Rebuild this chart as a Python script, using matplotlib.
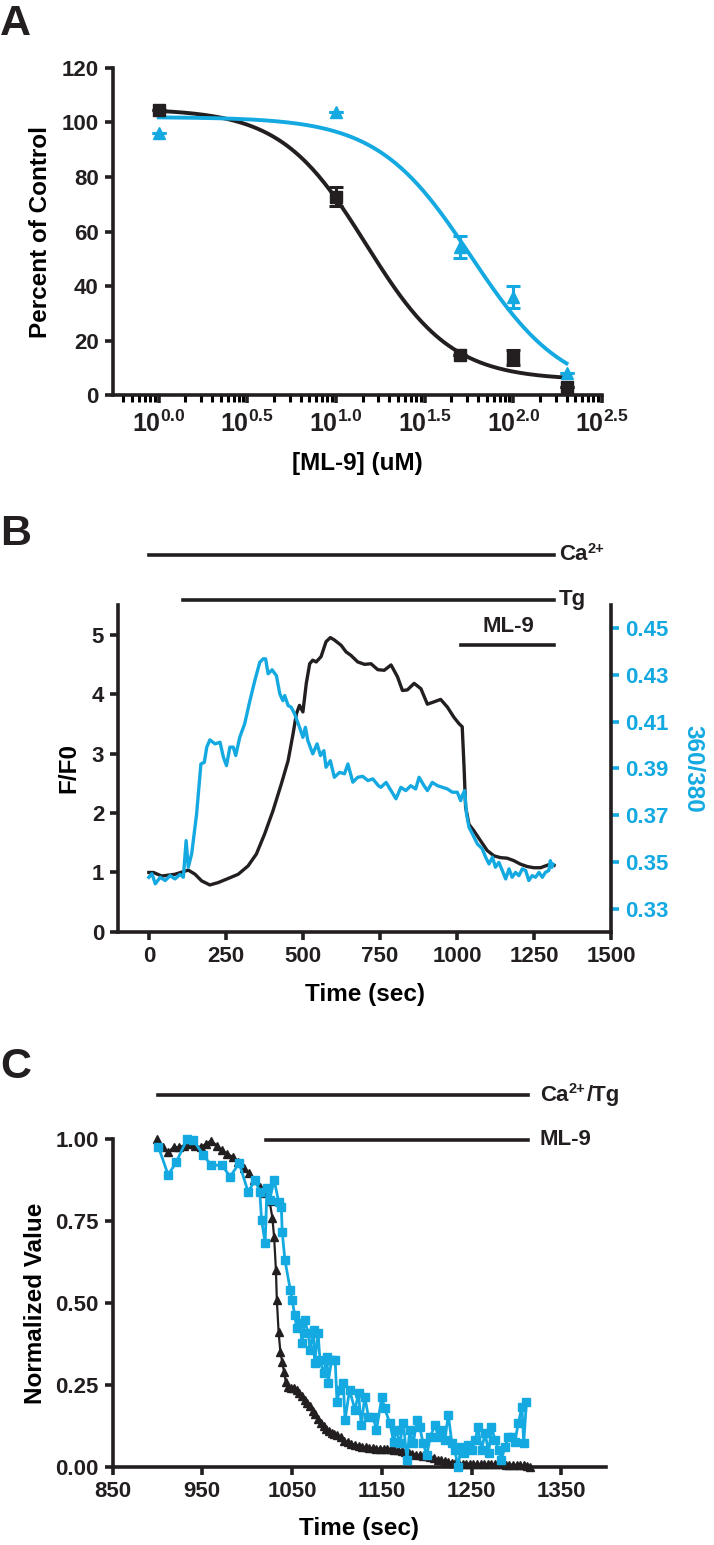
import numpy as np
import matplotlib
matplotlib.use("Agg")
import matplotlib.pyplot as plt
from matplotlib.ticker import FixedLocator, NullFormatter

# ---------------- data ----------------
# Panel A: dose response (ML-9 concentration in uM)
dose = [1, 10, 50, 100, 200]
pct_black = [104.6, 72.8, 14.7, 13.7, 3.0]
err_black = [0, 3.5, 0, 2.8, 0]
pct_blue = [96.0, 104.0, 54.4, 36.1, 8.0]
err_blue = [0, 0, 4.0, 4.0, 0]
# fitted sigmoid parameters: top, bottom, logIC50, hill slope
fit_black = [105.0, 5.5, 1.17, 1.8]
fit_blue = [102.0, 0.0, 1.76, 1.65]
a_xticks = [0.0, 0.5, 1.0, 1.5, 2.0, 2.5]

# Panel B: F/F0 trace (black) and 360/380 ratio (blue)
b_t_black = [0, 15, 42, 85, 128, 150, 171, 198, 225, 258, 290, 322, 349, 376, 403,
             430, 452, 468, 479, 489, 500, 511, 522, 532, 543, 559, 575, 589, 602,
             624, 640, 656, 678, 700, 721, 743, 764, 786, 807, 823, 839, 861, 883,
             904, 926, 947, 969, 990, 1007, 1017, 1023, 1028, 1039, 1055, 1077, 1098,
             1120, 1141, 1163, 1184, 1206, 1228, 1249, 1271, 1287, 1303, 1315]
b_f_black = [1.00, 1.00, 0.94, 0.97, 1.04, 0.97, 0.86, 0.79, 0.83, 0.90, 0.97, 1.11,
             1.31, 1.65, 2.04, 2.49, 2.88, 3.33, 3.67, 3.81, 3.70, 4.18, 4.51, 4.57,
             4.54, 4.63, 4.88, 4.95, 4.91, 4.82, 4.71, 4.65, 4.54, 4.50, 4.51, 4.41,
             4.40, 4.49, 4.29, 4.06, 4.07, 4.18, 4.09, 3.83, 3.87, 3.91, 3.78, 3.61,
             3.50, 3.45, 2.77, 2.10, 1.81, 1.70, 1.53, 1.37, 1.28, 1.25, 1.24, 1.20,
             1.14, 1.10, 1.08, 1.08, 1.11, 1.14, 1.12]
b_t_blue = [0, 10, 21, 37, 53, 69, 85, 101, 112, 121, 128, 139, 155, 169, 180, 188,
            198, 215, 231, 242, 252, 263, 274, 282, 295, 311, 328, 344, 360, 371, 379,
            387, 400, 414, 425, 435, 441, 452, 462, 473, 489, 500, 508, 516, 532, 546,
            557, 568, 575, 589, 602, 619, 635, 646, 662, 678, 694, 711, 727, 745, 753,
            770, 786, 802, 818, 834, 850, 866, 877, 893, 904, 920, 937, 953, 969, 985,
            1001, 1012, 1017, 1025, 1031, 1039, 1050, 1066, 1082, 1093, 1104, 1115,
            1125, 1136, 1147, 1158, 1169, 1179, 1190, 1201, 1212, 1223, 1233, 1244,
            1255, 1266, 1277, 1287, 1298, 1303, 1308, 1312]
b_r_blue = [0.3434, 0.3449, 0.3406, 0.3434, 0.3420, 0.3441, 0.3427, 0.3446, 0.3434,
            0.3591, 0.3477, 0.3534, 0.3705, 0.3919, 0.3926, 0.3991, 0.4022, 0.4005,
            0.4012, 0.3948, 0.3912, 0.3991, 0.3991, 0.3955, 0.4033, 0.4091, 0.4190,
            0.4276, 0.4354, 0.4369, 0.4369, 0.4305, 0.4322, 0.4297, 0.4219, 0.4190,
            0.4212, 0.4169, 0.4162, 0.4133, 0.4076, 0.4033, 0.4076, 0.4019, 0.3962,
            0.4005, 0.3955, 0.3976, 0.3905, 0.3933, 0.3862, 0.3883, 0.3877, 0.3919,
            0.3841, 0.3862, 0.3866, 0.3848, 0.3855, 0.3826, 0.3819, 0.3840, 0.3805,
            0.3770, 0.3819, 0.3805, 0.3826, 0.3812, 0.3862, 0.3826, 0.3805, 0.3840,
            0.3826, 0.3819, 0.3812, 0.3798, 0.3798, 0.3762, 0.3784, 0.3805, 0.3705,
            0.3648, 0.3620, 0.3577, 0.3556, 0.3520, 0.3491, 0.3520, 0.3477, 0.3498,
            0.3463, 0.3427, 0.3470, 0.3434, 0.3455, 0.3441, 0.3470, 0.3463, 0.3420,
            0.3441, 0.3434, 0.3455, 0.3434, 0.3455, 0.3463, 0.3505, 0.3477, 0.3490]

# Panel C: normalized traces after ML-9
c_t_black = [900, 906, 912, 918, 924, 930, 936, 942, 948, 954, 960, 966, 972, 978,
             984, 990, 996, 1002, 1008, 1014, 1020, 1025, 1028, 1030, 1032, 1033, 1035,
             1037, 1039, 1041, 1043, 1046, 1049, 1052, 1055, 1058, 1061, 1064, 1067,
             1070, 1073, 1076, 1079, 1082, 1085, 1088, 1091, 1094, 1097, 1100, 1104,
             1108, 1112, 1116, 1120, 1124, 1128, 1132, 1136, 1140, 1144, 1148, 1152,
             1156, 1160, 1164, 1168, 1172, 1176, 1180, 1184, 1188, 1192, 1196, 1200,
             1204, 1208, 1212, 1216, 1220, 1224, 1228, 1232, 1236, 1240, 1244, 1248,
             1252, 1256, 1260, 1264, 1268, 1272, 1276, 1280, 1284, 1288, 1292, 1296,
             1300, 1304, 1308, 1312, 1315]
c_v_black = [1.00, 0.975, 0.96, 0.975, 0.975, 0.98, 0.985, 0.98, 0.975, 0.985, 0.995,
             0.98, 0.965, 0.955, 0.945, 0.93, 0.91, 0.895, 0.875, 0.855, 0.835, 0.81,
             0.76, 0.70, 0.60, 0.51, 0.41, 0.35, 0.32, 0.29, 0.26, 0.245, 0.24, 0.24,
             0.235, 0.225, 0.215, 0.205, 0.195, 0.185, 0.17, 0.16, 0.145, 0.135, 0.125,
             0.115, 0.11, 0.105, 0.10, 0.097, 0.09, 0.08, 0.075, 0.07, 0.068, 0.065,
             0.062, 0.06, 0.058, 0.057, 0.056, 0.056, 0.056, 0.056, 0.055, 0.053, 0.052,
             0.05, 0.047, 0.043, 0.041, 0.038, 0.036, 0.034, 0.032, 0.03, 0.026, 0.022,
             0.02, 0.017, 0.015, 0.013, 0.011, 0.01, 0.01, 0.01, 0.01, 0.01, 0.009,
             0.009, 0.009, 0.008, 0.008, 0.008, 0.008, 0.008, 0.007, 0.007, 0.007,
             0.006, 0.006, 0.005, 0.003, 0.0]
c_t_blue = [901, 912, 921, 933, 940, 951, 960, 972, 981, 991, 1001, 1009, 1014, 1016,
            1020, 1022, 1025, 1030, 1035, 1038, 1039, 1042, 1048, 1050, 1053, 1055,
            1059, 1061, 1064, 1068, 1070, 1074, 1075, 1079, 1081, 1085, 1089, 1090,
            1094, 1098, 1100, 1103, 1107, 1109, 1114, 1120, 1124, 1127, 1131, 1135,
            1140, 1144, 1150, 1153, 1159, 1163, 1166, 1170, 1174, 1178, 1181, 1185,
            1189, 1192, 1196, 1200, 1204, 1209, 1213, 1217, 1220, 1224, 1228, 1231,
            1235, 1238, 1242, 1246, 1250, 1254, 1257, 1261, 1265, 1269, 1272, 1276,
            1280, 1283, 1287, 1291, 1295, 1298, 1302, 1306, 1308, 1311]
c_v_blue = [0.977, 0.89, 0.93, 0.999, 0.997, 0.951, 0.92, 0.92, 0.885, 0.926, 0.839,
            0.875, 0.839, 0.753, 0.682, 0.85, 0.814, 0.875, 0.809, 0.794, 0.717, 0.631,
            0.54, 0.509, 0.463, 0.423, 0.438, 0.377, 0.448, 0.408, 0.357, 0.418, 0.316,
            0.408, 0.326, 0.286, 0.336, 0.255, 0.326, 0.326, 0.199, 0.235, 0.255,
            0.143, 0.235, 0.174, 0.225, 0.128, 0.214, 0.153, 0.153, 0.113, 0.214,
            0.179, 0.133, 0.077, 0.113, 0.072, 0.133, 0.021, 0.113, 0.072, 0.143,
            0.123, 0.072, 0.037, 0.092, 0.128, 0.092, 0.113, 0.082, 0.159, 0.072,
            0.052, 0.001, 0.062, 0.042, 0.067, 0.052, 0.082, 0.123, 0.052, 0.103,
            0.042, 0.123, 0.082, 0.052, 0.021, 0.062, 0.092, 0.092, 0.077, 0.133,
            0.184, 0.072, 0.199]

# ---------------- style ----------------
BLACK = "#231f20"
BLUE = "#14a9e1"
plt.rcParams["font.family"] = ["Liberation Sans", "DejaVu Sans"]
plt.rcParams["font.weight"] = "bold"
plt.rcParams["mathtext.fontset"] = "custom"
plt.rcParams["mathtext.rm"] = "Liberation Sans:bold"
plt.rcParams["mathtext.it"] = "Liberation Sans:bold"
plt.rcParams["mathtext.bf"] = "Liberation Sans:bold"
plt.rcParams["axes.linewidth"] = 2.6
plt.rcParams["axes.edgecolor"] = BLACK
plt.rcParams["text.color"] = BLACK

TICK_FS = 16
LABEL_FS = 17.5


def style_axis(ax):
    for s in ["top", "right"]:
        ax.spines[s].set_visible(False)
    ax.tick_params(width=2.6, length=6, labelsize=TICK_FS, pad=4, colors=BLACK)


def sigmoid(x, p):
    top, bottom, c, h = p
    return bottom + (top - bottom) / (1 + 10 ** (h * (np.log10(x) - c)))


def label_with_sup(ax, x, y, base, sup, tail=""):
    # base text followed by a small raised superscript and optional tail
    tr = ax.get_xaxis_transform()
    t1 = ax.text(x, y, base, fontsize=TICK_FS, transform=tr, va="center", ha="left")
    fig.canvas.draw()
    w1 = t1.get_window_extent().width * 72 / fig.dpi
    t2 = ax.annotate(sup, xy=(x, y), xycoords=tr, xytext=(w1 + 0.5, 4),
                     textcoords="offset points", fontsize=10.5, va="center", ha="left")
    if tail:
        fig.canvas.draw()
        w2 = t2.get_window_extent().width * 72 / fig.dpi
        ax.annotate(tail, xy=(x, y), xycoords=tr, xytext=(w1 + w2 + 1, 0),
                    textcoords="offset points", fontsize=TICK_FS, va="center", ha="left")


fig = plt.figure(figsize=(7.14, 15.45), dpi=100)

# ---------------- Panel A ----------------
axA = fig.add_axes([0.1578, 0.7443, 0.6853, 0.2117])
style_axis(axA)
axA.set_xscale("log")
xs = np.logspace(0, 2.3, 300)
axA.plot(xs, sigmoid(xs, fit_black), color=BLACK, lw=2.8, zorder=2)
axA.plot(xs, sigmoid(xs, fit_blue), color=BLUE, lw=2.8, zorder=2)
axA.errorbar(dose, pct_black, yerr=err_black, fmt="s", color=BLACK, ms=8,
             capsize=5, elinewidth=2.2, capthick=2.2, clip_on=False, zorder=3)
axA.errorbar(dose, pct_blue, yerr=err_blue, fmt="^", color=BLUE, ms=9,
             capsize=5, elinewidth=2.2, capthick=2.2, clip_on=False, zorder=3)
axA.set_xlim(10 ** -0.26, 10 ** 2.5)
axA.set_ylim(0, 120)
axA.set_yticks(range(0, 121, 20))
major = [10 ** v for v in a_xticks]
axA.xaxis.set_major_locator(FixedLocator(major))
axA.set_xticklabels([r"$10^{%.1f}$" % v for v in a_xticks])
minor = []
for start in np.arange(-0.5, 2.5, 0.5):
    for k in range(2, 10):
        v = start + 0.5 * np.log10(k)
        if -0.26 <= v <= 2.5:
            minor.append(10 ** v)
axA.xaxis.set_minor_locator(FixedLocator(minor))
axA.xaxis.set_minor_formatter(NullFormatter())
axA.tick_params(axis="x", which="minor", width=2.2, length=5)
axA.tick_params(axis="x", which="major", labelsize=18, pad=5)
axA.set_xlabel("[ML-9] (uM)", fontsize=LABEL_FS, fontweight="bold", labelpad=11)
axA.set_ylabel("Percent of Control", fontsize=LABEL_FS, fontweight="bold", labelpad=7)
fig.text(0.0, 1 - 4 / 1545, "A", fontsize=31, fontweight="bold", va="top", ha="left")

# ---------------- Panel B ----------------
axB = fig.add_axes([0.1653, 0.3968, 0.6905, 0.2117])
style_axis(axB)
axB.plot(b_t_black, b_f_black, color=BLACK, lw=2.4)
axB.set_xlim(-100, 1500)
axB.set_ylim(0, 5.5)
axB.set_xticks(range(0, 1501, 250))
axB.set_yticks(range(0, 6))
axB.set_xlabel("Time (sec)", fontsize=LABEL_FS, fontweight="bold", labelpad=12)
axB.set_ylabel("F/F0", fontsize=LABEL_FS, fontweight="bold", labelpad=8)

axB2 = axB.twinx()
axB2.plot(b_t_blue, b_r_blue, color=BLUE, lw=2.4)
axB2.set_ylim(0.32, 0.46)
axB2.set_yticks(np.arange(0.33, 0.4501, 0.02))
axB2.set_yticklabels(["%.2f" % v for v in np.arange(0.33, 0.4501, 0.02)])
for s in ["top", "left", "bottom"]:
    axB2.spines[s].set_visible(False)
axB2.spines["right"].set_color(BLACK)
axB2.tick_params(axis="y", width=2.6, length=6, labelsize=TICK_FS, pad=4,
                 colors=BLUE)
axB2.set_ylabel("360/380", fontsize=LABEL_FS, fontweight="bold", color=BLUE,
                rotation=270, labelpad=26)

trB = axB.get_xaxis_transform()
axB.plot([0, 1315], [1.153, 1.153], color=BLACK, lw=2.6, transform=trB, clip_on=False)
axB.plot([111, 1315], [1.015, 1.015], color=BLACK, lw=2.6, transform=trB, clip_on=False)
axB.plot([1013, 1315], [0.878, 0.878], color=BLACK, lw=2.6, transform=trB, clip_on=False)
label_with_sup(axB, 1330, 1.153, "Ca", "2+")
axB.text(1330, 1.015, "Tg", fontsize=TICK_FS, transform=trB, va="center", ha="left")
axB.text(1166, 0.935, "ML-9", fontsize=TICK_FS, transform=trB, va="center", ha="center")
fig.text(0.0, 1 - 514 / 1545, "B", fontsize=31, fontweight="bold", va="top", ha="left")

# ---------------- Panel C ----------------
axC = fig.add_axes([0.1576, 0.0505, 0.6916, 0.2123])
style_axis(axC)
axC.plot(c_t_black, c_v_black, color=BLACK, lw=1.6, marker="^", ms=5.5,
         clip_on=False, zorder=2)
axC.plot(c_t_blue, c_v_blue, color=BLUE, lw=2.0, marker="s", ms=5.5,
         clip_on=False, zorder=3)
axC.set_xlim(850, 1400)
axC.set_ylim(0, 1.0)
axC.set_xticks(range(850, 1351, 100))
axC.set_yticks([0, 0.25, 0.5, 0.75, 1.0])
axC.set_yticklabels(["0.00", "0.25", "0.50", "0.75", "1.00"])
axC.set_xlabel("Time (sec)", fontsize=LABEL_FS, fontweight="bold", labelpad=11)
axC.set_ylabel("Normalized Value", fontsize=LABEL_FS, fontweight="bold", labelpad=6)

trC = axC.get_xaxis_transform()
axC.plot([901, 1313], [1.134, 1.134], color=BLACK, lw=2.6, transform=trC, clip_on=False)
axC.plot([1021, 1313], [0.997, 0.997], color=BLACK, lw=2.6, transform=trC, clip_on=False)
label_with_sup(axC, 1326, 1.134, "Ca", "2+", "/Tg")
axC.text(1326, 0.997, "ML-9", fontsize=TICK_FS, transform=trC, va="center", ha="left")
fig.text(0.0, 1 - 1047 / 1545, "C", fontsize=31, fontweight="bold", va="top", ha="left")

fig.savefig("out.png", dpi=100)
